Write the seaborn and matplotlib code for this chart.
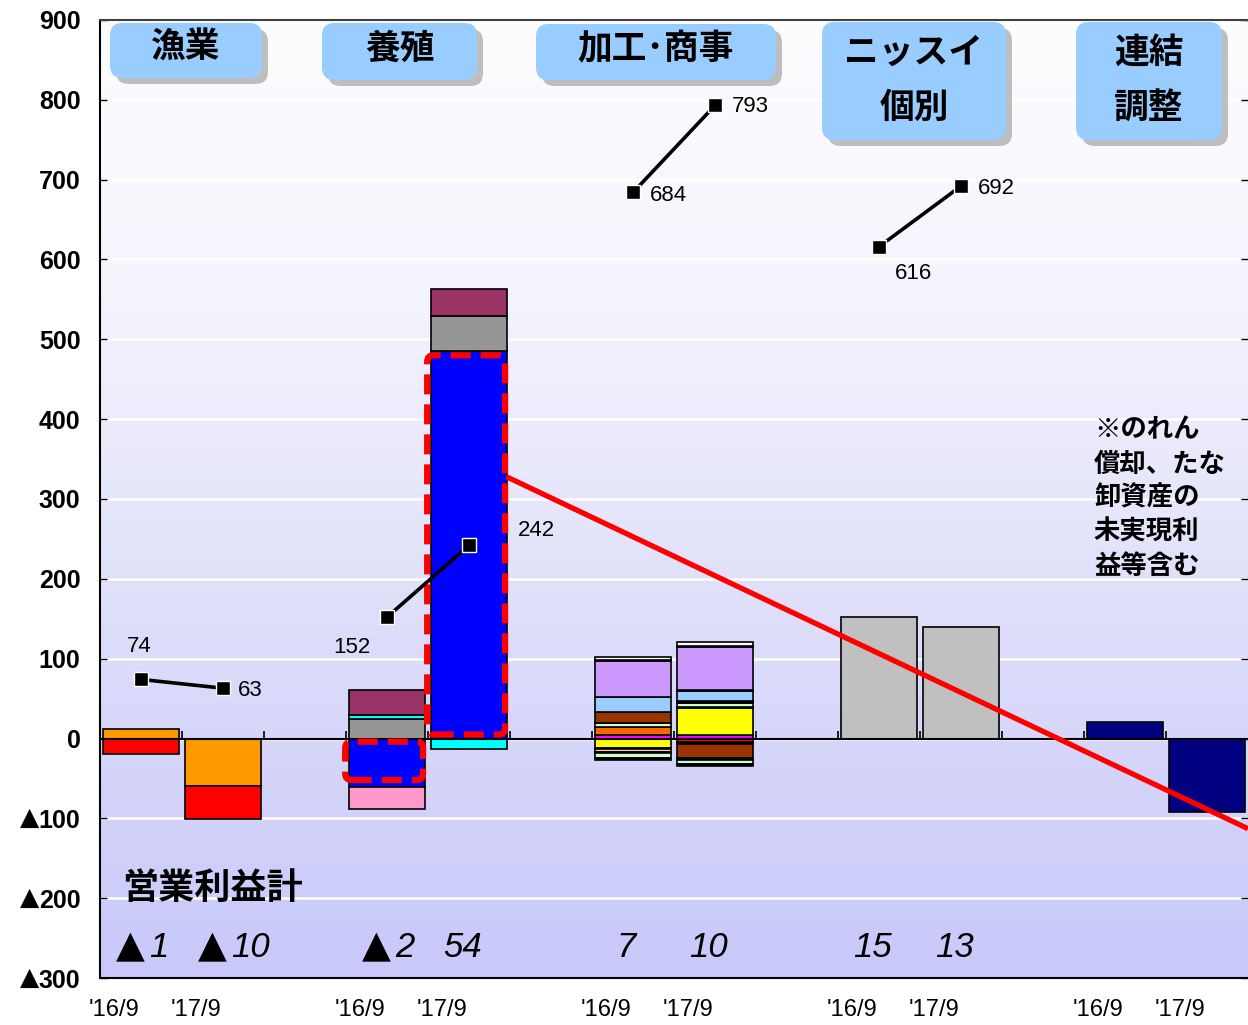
import numpy as np
import pandas as pd
import matplotlib
matplotlib.use("Agg")
import matplotlib.pyplot as plt
import matplotlib.transforms as mtransforms
import seaborn as sns
from matplotlib.patches import FancyBboxPatch
from matplotlib.colors import LinearSegmentedColormap

sns.set_theme(style="white")
LATIN = ['Liberation Sans', 'DejaVu Sans']
SYMBOL = ['DejaVu Sans']
CJK = ['Noto Sans CJK JP', 'DejaVu Sans']
plt.rcParams['font.family'] = LATIN
plt.rcParams['text.color'] = 'black'
plt.rcParams['xtick.color'] = 'black'
plt.rcParams['ytick.color'] = 'black'

# ---- data -------------------------------------------------------------
period_labels = ["'16/9", "'17/9"]
segments = ["漁業", "養殖", "加工･商事", "ニッスイ個別", "連結調整"]
bar_slots = [0, 1, 3, 4, 6, 7, 9, 10, 12, 13]

# stacked components of each bar (series key, value); positives stack up, negatives down
fishery_16 = [("orange", 12), ("red", -20)]
fishery_17 = [("orange", -59), ("red", -42)]
aqua_16 = [("gray", 24), ("cyan", 6), ("plum", 31), ("blue", -61), ("pink", -27)]
aqua_17 = [("blue", 486), ("gray", 43), ("plum", 34), ("cyan", -13)]
food_16 = [("magenta", 5), ("amber", 9), ("mint", 6), ("brown", 13), ("sky", 19),
           ("lavender", 45), ("black", 1), ("white", 4),
           ("yellow", -12), ("black", -1), ("peach", -4), ("black", -1),
           ("mint", -6), ("black", -3)]
food_17 = [("magenta", 4), ("black", 1), ("yellow", 33), ("black", 1), ("mint", 6),
           ("black", 2), ("sky", 12), ("black", 2), ("lavender", 54), ("black", 1),
           ("white", 5),
           ("red", -4), ("black", -3), ("brown", -17), ("black", -3),
           ("mint", -5), ("black", -2)]
nissui_16 = [("silver", 152)]
nissui_17 = [("silver", 140)]
consol_16 = [("navy", 21)]
consol_17 = [("navy", -92)]
stacks = [fishery_16, fishery_17, aqua_16, aqua_17, food_16, food_17,
          nissui_16, nissui_17, consol_16, consol_17]

# second measure, plotted as connected markers
marker_16 = [74, 152, 684, 616]
marker_17 = [63, 242, 793, 692]

# operating income totals per bar
op_totals = [-1, -10, -2, 54, 7, 10, 15, 13]

yticks = list(range(-300, 901, 100))

PAL = {
    "orange": "#FF9900", "red": "#FF0000", "gray": "#969696", "cyan": "#00FFFF",
    "plum": "#993366", "blue": "#0000FF", "pink": "#FF99CC", "magenta": "#FF00FF",
    "amber": "#FF6600", "mint": "#CCFFCC", "brown": "#993300", "sky": "#99CCFF",
    "lavender": "#CC99FF", "white": "#FFFFFF", "yellow": "#FFFF00", "peach": "#FFCC99",
    "silver": "#C0C0C0", "navy": "#000080", "black": "#000000",
}

# ---- figure -----------------------------------------------------------
W, H = 1248, 1025
fig = plt.figure(figsize=(W / 100, H / 100), dpi=100)
AX_L, AX_R, AX_T, AX_B = 100, 1248, 20, 978
ax = fig.add_axes([AX_L / W, (H - AX_B) / H, (AX_R - AX_L) / W, (AX_B - AX_T) / H])


def axfrac(px, py):
    return (px - AX_L) / (AX_R - AX_L), (AX_B - py) / (AX_B - AX_T)


XMIN, XMAX, YMIN, YMAX = -0.5, 13.5, -300, 900

# vertical background gradient
grad_cmap = LinearSegmentedColormap.from_list(
    "bg", [(0.0, (200/255, 200/255, 250/255)),
           (0.34, (220/255, 220/255, 250/255)),
           (0.71, (244/255, 244/255, 253/255)),
           (1.0, (253/255, 253/255, 255/255))])
ax.imshow(np.linspace(0, 1, 256).reshape(-1, 1), extent=[XMIN, XMAX, YMIN, YMAX],
          origin="lower", aspect="auto", cmap=grad_cmap, zorder=0)

ax.set_axisbelow(True)
ax.yaxis.grid(True, color="white", lw=1.8)
ax.xaxis.grid(False)

# stacked bars
BAR_W = 0.915
for slot, segs in zip(bar_slots, stacks):
    up, down = 0, 0
    for key, v in segs:
        base = up if v >= 0 else down
        ax.bar(slot, v, bottom=base, width=BAR_W, color=PAL[key],
               edgecolor="black", linewidth=1.2, zorder=3)
        if v >= 0:
            up += v
        else:
            down += v

# zero line with category boundary ticks
ax.axhline(0, color="black", lw=1.5, zorder=4)
ax.vlines(np.arange(0.5, 13.0, 1.0), 0, 9, colors="black", lw=1.2, zorder=4)


# dashed highlight around the aquaculture blue components
def highlight(slot, top, bottom):
    box = FancyBboxPatch((slot - 0.51, bottom), 0.95, top - bottom,
                         boxstyle="round,pad=0,rounding_size=0.08",
                         mutation_aspect=100, fill=False, edgecolor="red",
                         lw=4.5, linestyle=(0, (3.2, 1.6)), zorder=5)
    ax.add_patch(box)


highlight(4, aqua_17[0][1] - 6, 5)
highlight(3, -4, aqua_16[3][1] + 9)

# red callout line
CALLOUT_START = (4.455, 328)
CALLOUT_END = (13.5, -113)
ax.plot([CALLOUT_START[0], CALLOUT_END[0]], [CALLOUT_START[1], CALLOUT_END[1]],
        color="red", lw=3.8, zorder=5, solid_capstyle="butt")

# connected markers
label_offsets_16 = [((-1, 24), "center"), ((-25, -22), "center"),
                    ((12, -2), "left"), ((25, -19), "center")]
label_offsets_17 = [((11, -2), "left"), ((35, 11), "left"),
                    ((12, -1), "left"), ((12, -2), "left")]
for i in range(4):
    x0, x1 = bar_slots[2 * i], bar_slots[2 * i + 1]
    df = pd.DataFrame({"x": [x0, x1], "y": [marker_16[i], marker_17[i]]})
    sns.lineplot(data=df, x="x", y="y", ax=ax, color="black", lw=2.6,
                 marker="s", markersize=10, markeredgecolor="white",
                 markeredgewidth=1, legend=False, zorder=6, sort=False)
    for (xv, yv, (off, ha)) in [(x0, marker_16[i], label_offsets_16[i]),
                                 (x1, marker_17[i], label_offsets_17[i])]:
        ax.annotate(f"{yv}", (xv, yv), xytext=off, textcoords="offset points",
                    ha=ha, va="center", fontsize=16, family=LATIN,
                    color="black", zorder=7)

# operating income totals (▲ marks a negative figure)
total_slots = [0, 1, 3, 4, 6, 7, 9, 10]
TOTAL_Y = -262
for slot, v in zip(total_slots, op_totals):
    if v < 0:
        ax.text(slot + 0.05, TOTAL_Y, "▲", ha="right", va="center", fontsize=27,
                style="italic", family=SYMBOL, color="black", zorder=7)
        ax.text(slot + 0.1, TOTAL_Y, f"{-v}", ha="left", va="center", fontsize=25,
                style="italic", family=LATIN, color="black", zorder=7)
    else:
        ax.text(slot - 0.08, TOTAL_Y, f"{v}", ha="center", va="center", fontsize=25,
                style="italic", family=LATIN, color="black", zorder=7)

ax.text(*axfrac(122, 888), "営業利益計", transform=ax.transAxes, ha="left",
        va="center", fontsize=26, fontweight="bold", family=CJK,
        color="black", zorder=7)

note_lines = ["※のれん", "償却、たな", "卸資産の", "未実現利", "益等含む"]
for k, line in enumerate(note_lines):
    ax.text(*axfrac(1094, 430 + 34 * k), line, transform=ax.transAxes, ha="left",
            va="center", fontsize=19, fontweight="bold", family=CJK,
            color="black", zorder=7)

# segment header boxes (pixel extents on the canvas)
headers = [
    (["漁業"], (110, 262, 23, 78)),
    (["養殖"], (322, 477, 23, 80)),
    (["加工･商事"], (536, 776, 24, 80)),
    (["ニッスイ", "個別"], (822, 1006, 22, 140)),
    (["連結", "調整"], (1076, 1222, 22, 140)),
]
ASPECT = (AX_R - AX_L) / (AX_B - AX_T)
for lines, (l, r, t, b) in headers:
    for dx, dy, col in [(6, 6, "#BEBEBE"), (0, 0, "#99CCFF")]:
        x0, y0 = axfrac(l + dx, b + dy)
        x1, y1 = axfrac(r + dx, t + dy)
        ax.add_patch(FancyBboxPatch((x0, y0), x1 - x0, y1 - y0,
                                    boxstyle="round,pad=0,rounding_size=0.011",
                                    mutation_aspect=ASPECT, transform=ax.transAxes,
                                    facecolor=col, edgecolor="none", zorder=8,
                                    clip_on=False))
    cx = (l + r) / 2
    if len(lines) == 1:
        ys = [(t + b) / 2 - 3]
    else:
        ys = [t + 30, t + 85]
    for line, yy in zip(lines, ys):
        ax.text(*axfrac(cx, yy), line, transform=ax.transAxes, ha="center",
                va="center", fontsize=25, fontweight="bold", family=CJK,
                color="black", zorder=9)

# axes, ticks, spines
ax.set_xlim(XMIN, XMAX)
ax.set_ylim(YMIN, YMAX)
ax.set_yticks(yticks)
ax.set_yticklabels([f"{abs(v)}" for v in yticks],
                   fontsize=18, fontweight="bold", family=LATIN)
# ▲ prefix for the negative tick values
ylab_trans = mtransforms.blended_transform_factory(ax.transAxes, ax.transData)
for v in yticks:
    if v < 0:
        ax.text(axfrac(39, 0)[0], v, "▲", transform=ylab_trans, ha="right",
                va="center", fontsize=18, fontweight="bold", family=SYMBOL,
                color="black", clip_on=False)
tick_x = [s - 0.33 for s in bar_slots]
ax.set_xticks(tick_x)
ax.set_xticklabels(period_labels * 5, fontsize=17, family=LATIN)
ax.tick_params(axis="x", length=0, pad=15, colors="black")
ax.tick_params(axis="y", left=True, right=True, direction="in", length=5,
               width=1, pad=14, colors="black")
ax.set_xlabel("")
ax.set_ylabel("")
for side in ["left", "bottom"]:
    ax.spines[side].set_color("black")
    ax.spines[side].set_linewidth(1.5)
ax.spines["top"].set_color("#404040")
ax.spines["top"].set_linewidth(1.5)
ax.spines["right"].set_visible(False)

fig.savefig("out.png", dpi=100, facecolor="white")
